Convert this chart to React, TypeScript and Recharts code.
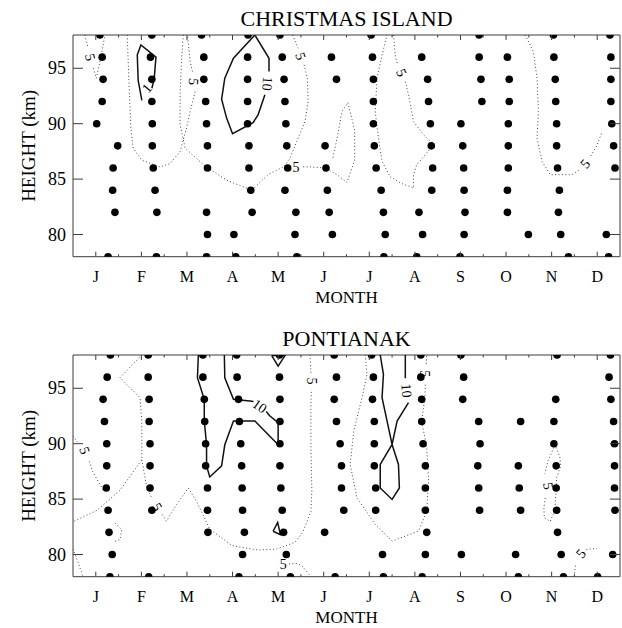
import React from 'react';
import { ScatterChart, Scatter, XAxis, YAxis, Label } from 'recharts';

const FONT = "'Liberation Serif', 'Times New Roman', Times, serif";
const AXIS_COLOR = '#3c3c3c';

const MONTH_LABELS = ['J', 'F', 'M', 'A', 'M', 'J', 'J', 'A', 'S', 'O', 'N', 'D'];
const MONTH_TICKS = [1, 1.5, 2, 2.5, 3, 3.5, 4, 4.5, 5, 5.5, 6, 6.5, 7, 7.5, 8, 8.5, 9, 9.5, 10, 10.5, 11, 11.5, 12];
const HEIGHT_TICKS = [80, 85, 90, 95];
const X_DOMAIN: [number, number] = [0.5, 12.5];
const Y_DOMAIN: [number, number] = [78, 98];
const ROW_HEIGHTS = [98, 96, 94, 92, 90, 88, 86, 84, 82, 80, 78];

// Observation months per height row (Christmas Island)
const CI_DOT_MONTHS: number[][] = [
  [1.09, 2.23, 3.32, 4.34, 5.04, 7.04, 9.41, 11.04, 12.28],
  [1.14, 2.2, 3.37, 4.33, 5.09, 6.17, 7.07, 8.15, 9.41, 10.03, 11.05, 12.3],
  [1.16, 2.23, 3.37, 4.33, 5.13, 6.28, 7.09, 8.28, 9.45, 10.07, 11.08, 12.3],
  [1.14, 2.23, 3.41, 4.33, 5.15, 7.09, 8.3, 9.47, 10.07, 11.09, 12.3],
  [1.02, 2.24, 3.43, 4.33, 5.17, 7.09, 8.34, 9.01, 10.05, 11.11, 12.32],
  [1.48, 2.24, 3.45, 4.36, 5.19, 6.03, 7.11, 8.36, 9.05, 10.05, 11.11, 12.36],
  [1.38, 2.26, 3.45, 4.36, 5.21, 6.05, 7.15, 8.39, 9.07, 10.05, 11.13, 12.39],
  [1.37, 2.3, 4.4, 5.15, 6.08, 7.26, 8.37, 9.08, 10.03, 11.17],
  [1.42, 2.34, 3.43, 4.43, 5.39, 6.12, 7.31, 8.09, 9.1, 10.03, 11.15],
  [3.45, 4.03, 5.37, 6.19, 7.35, 8.17, 9.08, 10.49, 11.2, 12.2],
  [1.27, 2.33, 3.43, 4.07, 5.41, 7.32, 8.04, 8.99, 11.37, 12.25],
];

// Observation months per height row (Pontianak)
const PO_DOT_MONTHS: number[][] = [
  [1.32, 2.15, 3.35, 4.09, 5.03, 6.23, 7.05, 8.13, 9.01, 11.12, 12.29],
  [1.25, 2.15, 3.35, 4.1, 5.03, 6.28, 7.09, 8.13, 9.07, 12.26],
  [1.16, 2.17, 3.38, 4.13, 5.04, 6.23, 7.07, 8.15, 9.05, 11.09, 12.3],
  [1.19, 2.17, 3.39, 4.15, 5.04, 6.28, 7.11, 8.15, 9.4, 10.32, 11.05, 12.36],
  [1.24, 2.19, 3.41, 4.18, 5.04, 6.36, 7.11, 8.18, 9.43, 11.05, 12.38],
  [1.24, 2.19, 3.41, 4.2, 5.04, 6.39, 7.11, 8.23, 9.38, 10.27, 11.1, 12.38],
  [1.23, 2.19, 3.45, 4.21, 5.06, 6.39, 7.14, 8.23, 9.4, 10.29, 11.1, 12.38],
  [1.27, 2.23, 3.45, 4.22, 5.09, 6.44, 7.14, 8.23, 9.42, 10.32, 11.11, 12.39],
  [1.29, 3.46, 4.26, 5.12, 6.02, 8.26, 11.13],
  [1.36, 4.22, 5.18, 7.29, 8.23, 9.02, 10.21, 11.21, 12.34],
  [1.31, 2.16, 4.14, 5.27, 6.25, 7.31, 8.16, 10.27, 11.26, 12.01],
];

type Pt = [number, number];

// ---- Christmas Island contours (month, km) ----
const CI_A1: Pt[] = [[0.76, 98], [0.82, 97.0]];
const CI_A2: Pt[] = [[0.95, 95.0], [1.01, 94.1], [1.13, 96.35], [1.2, 98]];
const CI_B1: Pt[] = [[1.69, 98], [1.73, 93.5], [1.77, 89.6], [1.82, 87.8], [2.01, 86.7], [2.41, 86.1], [2.63, 86.4], [2.85, 87.5], [2.99, 89.6], [3.07, 91.1], [3.18, 92.9]];
const CI_B2: Pt[] = [[3.12, 94.7], [3.07, 95.6], [3.01, 98]];
const CI_C1: Pt[] = [[2.92, 98], [2.88, 95.6], [2.85, 92.6], [2.85, 89.9], [2.96, 87.8], [3.36, 86.3], [3.87, 84.9], [4.42, 84.0], [4.78, 85.4], [5.11, 86.1], [5.22, 86.1]];
const CI_C2: Pt[] = [[5.55, 86.1], [5.7, 86.1], [6.05, 86.0], [6.29, 85.4], [6.51, 84.7], [6.68, 86.7], [6.68, 89.4], [6.53, 91.9], [6.4, 91.1], [6.31, 89.0], [6.2, 86.9]];
const CI_D1: Pt[] = [[5.32, 98], [5.44, 96.8]];
const CI_D2: Pt[] = [[5.57, 95.3], [5.64, 94.1], [5.66, 92.0], [5.59, 90.2], [5.41, 88.4], [5.26, 86.9], [5.15, 86.2]];
const CI_E1: Pt[] = [[7.53, 98], [7.57, 96.2], [7.62, 95.3]];
const CI_E2: Pt[] = [[7.79, 93.8], [7.86, 92.6], [7.97, 90.2], [8.19, 89.0], [8.41, 88.1], [8.23, 87.2], [8.04, 86.3], [7.97, 85.4], [7.97, 84.2], [7.71, 84.6], [7.46, 85.2], [7.28, 86.6], [7.2, 88.7], [7.13, 91.1], [7.17, 94.1], [7.28, 96.2], [7.39, 98]];
const CI_F1: Pt[] = [[10.42, 98], [10.6, 96.5], [10.68, 94.1], [10.71, 91.1], [10.68, 88.7], [10.79, 86.6], [10.97, 85.4], [11.44, 85.4], [11.6, 85.8]];
const CI_F2: Pt[] = [[11.86, 87.1], [11.99, 88.0], [12.1, 89.2]];
const CI_G: Pt[] = [[2.23, 93.2], [2.28, 94.0], [2.32, 96.0], [1.99, 97.1], [1.91, 96.2], [1.93, 93.9], [2.01, 92.1]];
const CI_H: Pt[] = [[4.71, 92.6], [4.56, 90.8], [4.45, 90.1], [4.0, 89.1], [3.87, 90.5], [3.76, 92.2], [3.83, 94.1], [4.02, 95.9], [4.49, 98.0], [4.8, 95.9], [4.8, 94.7]];

const CI_DOTTED: Pt[][] = [CI_A1, CI_A2, CI_B1, CI_B2, CI_C1, CI_C2, CI_D1, CI_D2, CI_E1, CI_E2, CI_F1, CI_F2];
const CI_SOLID: Pt[][] = [CI_G, CI_H];
const CI_LABELS = [
  { m: 0.88, h: 96.0, t: '5', a: 75 },
  { m: 2.12, h: 93.2, t: '1', a: -50 },
  { m: 3.15, h: 93.8, t: '5', a: 95 },
  { m: 4.77, h: 93.6, t: '10', a: 95 },
  { m: 5.5, h: 96.1, t: '5', a: 70 },
  { m: 5.39, h: 86.1, t: '5', a: 0 },
  { m: 7.71, h: 94.6, t: '5', a: 65 },
  { m: 11.73, h: 86.4, t: '5', a: -50 },
];

// ---- Pontianak contours (month, km) ----
const PO_P1L: Pt[] = [[2.01, 98], [1.53, 95.95], [1.97, 94.15], [2.01, 92.04], [2.01, 88.55], [1.53, 85.8], [1.03, 84.0], [0.5, 82.95]];
const PO_P1R_A: Pt[] = [[2.01, 88.55], [2.12, 86.0], [2.24, 85.0]];
const PO_P1R_B: Pt[] = [[2.46, 83.6], [2.55, 83.0], [2.77, 84.5], [3.03, 86.0], [3.21, 84.8], [3.5, 82.3], [3.99, 80.8], [4.56, 80.4], [4.97, 80.5], [5.37, 81.1], [5.54, 82.0], [5.72, 83.9], [5.74, 85.8], [5.72, 89.45], [5.72, 93.97], [5.73, 94.9]];
const PO_P1R_C: Pt[] = [[5.72, 96.4], [5.7, 98]];
const PO_P2A: Pt[] = [[0.5, 90.7], [0.62, 90.0]];
const PO_P2B: Pt[] = [[0.86, 88.4], [0.93, 87.5], [1.05, 86.6], [1.18, 85.7]];
const PO_JANLOOP: Pt[] = [[1.42, 82.85], [1.57, 82.25], [1.53, 81.35], [1.42, 81.2]];
const PO_P7A: Pt[] = [[6.91, 98], [6.95, 96.25], [6.84, 94.15], [6.66, 91.14], [6.58, 88.13], [6.73, 85.12], [7.13, 82.71], [7.5, 81.21], [8.08, 82.12], [8.26, 83.92], [8.3, 86.63], [8.26, 89.63], [8.15, 92.04], [8.22, 94.15], [8.23, 95.4]];
const PO_P7B: Pt[] = [[8.25, 97.2], [8.26, 98]];
const PO_P8: Pt[] = [[5.24, 79.15], [5.4, 79.2], [5.52, 79.0], [5.72, 78]];
const PO_P9A: Pt[] = [[11.08, 89.93], [10.92, 88.46], [10.85, 87.3]];
const PO_P9B: Pt[] = [[10.86, 85.1], [10.83, 84.2], [10.84, 83.3], [10.97, 83.0], [11.07, 84.0], [11.09, 85.4], [11.11, 86.93], [11.2, 88.0], [11.18, 88.8], [11.08, 89.93]];
const PO_P10A: Pt[] = [[11.49, 78], [11.53, 79.2]];
const PO_P10B: Pt[] = [[11.76, 80.45], [11.86, 80.5], [11.99, 80.55]];
const PO_P11: Pt[] = [[0.5, 80.5], [0.6, 79.4], [0.66, 78.7], [0.72, 78]];
const PO_P3: Pt[] = [[4.86, 97.95], [5.0, 97.0], [5.15, 97.95], [4.86, 97.95]];
const PO_P4: Pt[] = [[4.89, 82.1], [4.99, 82.9], [5.05, 81.8], [4.89, 82.1]];
const PO_P5A: Pt[] = [[3.25, 98], [3.23, 95.95], [3.38, 94.0], [3.38, 92.04], [3.43, 89.9], [3.43, 88.0], [3.5, 87.0], [3.76, 88.0], [3.83, 89.9], [4.02, 92.04], [4.49, 92.04], [5.0, 89.9], [5.0, 91.9], [4.82, 92.5], [4.74, 92.9]];
const PO_P5B: Pt[] = [[4.46, 93.8], [4.38, 93.85], [4.02, 94.0], [3.83, 95.95], [3.82, 98]];
const PO_P6A: Pt[] = [[7.24, 98], [7.31, 96.25], [7.28, 94.15], [7.39, 92.04], [7.5, 89.93], [7.64, 88.13], [7.66, 86.0], [7.5, 84.97], [7.24, 86.0], [7.24, 88.13], [7.5, 89.93], [7.61, 92.04], [7.86, 93.7]];
const PO_P6B: Pt[] = [[7.79, 95.9], [7.79, 98]];

const PO_DOTTED: Pt[][] = [PO_P1L, PO_P1R_A, PO_P1R_B, PO_P1R_C, PO_P2A, PO_P2B, PO_JANLOOP, PO_P7A, PO_P7B, PO_P8, PO_P9A, PO_P9B, PO_P10A, PO_P10B, PO_P11];
const PO_SOLID: Pt[][] = [PO_P3, PO_P4, PO_P5A, PO_P5B, PO_P6A, PO_P6B];
const PO_LABELS = [
  { m: 0.76, h: 89.4, t: '5', a: 70 },
  { m: 2.35, h: 84.3, t: '5', a: 60 },
  { m: 4.6, h: 93.4, t: '10', a: 35 },
  { m: 5.73, h: 95.65, t: '5', a: 90 },
  { m: 5.11, h: 79.1, t: '5', a: 0 },
  { m: 8.23, h: 96.3, t: '5', a: 90 },
  { m: 7.82, h: 94.8, t: '10', a: 85 },
  { m: 10.93, h: 86.2, t: '5', a: 80 },
  { m: 11.64, h: 80.1, t: '5', a: -50 },
];

const toDots = (rows: number[][]) => rows.flatMap((ms, i) => ms.map((m) => ({ m, h: ROW_HEIGHTS[i] })));
const toLine = (pts: Pt[]) => pts.map(([m, h]) => ({ m, h }));

const NoShape = () => <g />;
const DotShape = (p: any) => <circle cx={p.cx} cy={p.cy} r={3.8} fill="#000" />;
const LabelShape = (p: any) => {
  const { cx, cy, payload } = p;
  return (
    <text x={cx} y={cy} dy="0.35em" textAnchor="middle" fontFamily={FONT} fontSize={14} fill="#000"
      transform={`rotate(${payload.a} ${cx} ${cy})`}>
      {payload.t}
    </text>
  );
};

const isMajor = (v: number) => Math.abs(v - Math.round(v)) < 1e-6;

const BottomTick = (p: any) => {
  const { x, y, payload } = p;
  const v = payload.value;
  const major = isMajor(v);
  return (
    <g>
      <line x1={x} x2={x} y1={y} y2={y - (major ? 5 : 2.5)} stroke={AXIS_COLOR} />
      {major ? (
        <text x={x} y={y + 25} textAnchor="middle" fontFamily={FONT} fontSize={16} fill="#000">
          {MONTH_LABELS[Math.round(v) - 1]}
        </text>
      ) : null}
    </g>
  );
};

const TopTick = (p: any) => {
  const { x, y, payload } = p;
  const major = isMajor(payload.value);
  return <line x1={x} x2={x} y1={y} y2={y + (major ? 5 : 2.5)} stroke={AXIS_COLOR} />;
};

const LeftTick = (p: any) => {
  const { x, y, payload } = p;
  return (
    <g>
      <line x1={x} x2={x + 10} y1={y} y2={y} stroke={AXIS_COLOR} />
      <text x={x - 7} y={y + 6} textAnchor="end" fontFamily={FONT} fontSize={18} fill="#000">
        {payload.value}
      </text>
    </g>
  );
};

const RightTick = (p: any) => {
  const { x, y } = p;
  return <line x1={x} x2={x - 10} y1={y} y2={y} stroke={AXIS_COLOR} />;
};

type PanelProps = {
  title: string;
  dots: number[][];
  dotted: Pt[][];
  solid: Pt[][];
  labels: { m: number; h: number; t: string; a: number }[];
};

function Panel({ title, dots, dotted, solid, labels }: PanelProps) {
  return (
    <ScatterChart width={622} height={320} margin={{ top: 0, right: 0, bottom: 0, left: 0 }}>
      <XAxis xAxisId="b" type="number" dataKey="m" domain={X_DOMAIN} allowDataOverflow ticks={MONTH_TICKS}
        interval={0} tickSize={0} tickMargin={0} tickLine={false} tick={BottomTick}
        axisLine={{ stroke: AXIS_COLOR }} height={63.3}>
        <Label value="MONTH" position="insideBottom" offset={17}
          style={{ fontFamily: FONT, fontSize: 17, fill: '#000' }} />
      </XAxis>
      <XAxis xAxisId="t" orientation="top" type="number" dataKey="m" domain={X_DOMAIN} allowDataOverflow
        ticks={MONTH_TICKS} interval={0} tickSize={0} tickMargin={0} tickLine={false} tick={TopTick}
        axisLine={{ stroke: AXIS_COLOR }} height={35}>
        <Label value={title} position="insideTop" offset={10}
          style={{ fontFamily: FONT, fontSize: 22, fill: '#000' }} />
      </XAxis>
      <YAxis yAxisId="l" type="number" dataKey="h" domain={Y_DOMAIN} allowDataOverflow ticks={HEIGHT_TICKS}
        interval={0} tickSize={0} tickMargin={0} tickLine={false} tick={LeftTick}
        axisLine={{ stroke: AXIS_COLOR }} width={73}>
        <Label value="HEIGHT (km)" angle={-90} position="insideLeft" offset={28}
          style={{ textAnchor: 'middle', fontFamily: FONT, fontSize: 19, fill: '#000' }} />
      </YAxis>
      <YAxis yAxisId="r" orientation="right" type="number" dataKey="h" domain={Y_DOMAIN} allowDataOverflow
        ticks={HEIGHT_TICKS} interval={0} tickSize={0} tickMargin={0} tickLine={false} tick={RightTick}
        axisLine={{ stroke: AXIS_COLOR }} width={2} />
      {dotted.map((pts, i) => (
        <Scatter key={'dot' + i} xAxisId="b" yAxisId="l" data={toLine(pts)} fill="#444"
          line={{ stroke: '#444', strokeWidth: 1, strokeDasharray: '1 2.4' }} lineType="joint"
          shape={NoShape} isAnimationActive={false} legendType="none" />
      ))}
      {solid.map((pts, i) => (
        <Scatter key={'sol' + i} xAxisId="b" yAxisId="l" data={toLine(pts)} fill="#111"
          line={{ stroke: '#111', strokeWidth: 1.5 }} lineType="joint"
          shape={NoShape} isAnimationActive={false} legendType="none" />
      ))}
      <Scatter xAxisId="t" yAxisId="r" data={labels} shape={LabelShape} isAnimationActive={false} legendType="none" />
      <Scatter xAxisId="b" yAxisId="l" data={toDots(dots)} shape={DotShape} isAnimationActive={false} legendType="none" />
    </ScatterChart>
  );
}

export default function App() {
  return (
    <div style={{ position: 'absolute', left: 0, top: 0, width: 622, height: 628, background: '#fff' }}>
      <div style={{ position: 'absolute', left: 0, top: 0 }}>
        <Panel title="CHRISTMAS ISLAND" dots={CI_DOT_MONTHS} dotted={CI_DOTTED} solid={CI_SOLID} labels={CI_LABELS} />
      </div>
      <div style={{ position: 'absolute', left: 0, top: 320 }}>
        <Panel title="PONTIANAK" dots={PO_DOT_MONTHS} dotted={PO_DOTTED} solid={PO_SOLID} labels={PO_LABELS} />
      </div>
    </div>
  );
}
